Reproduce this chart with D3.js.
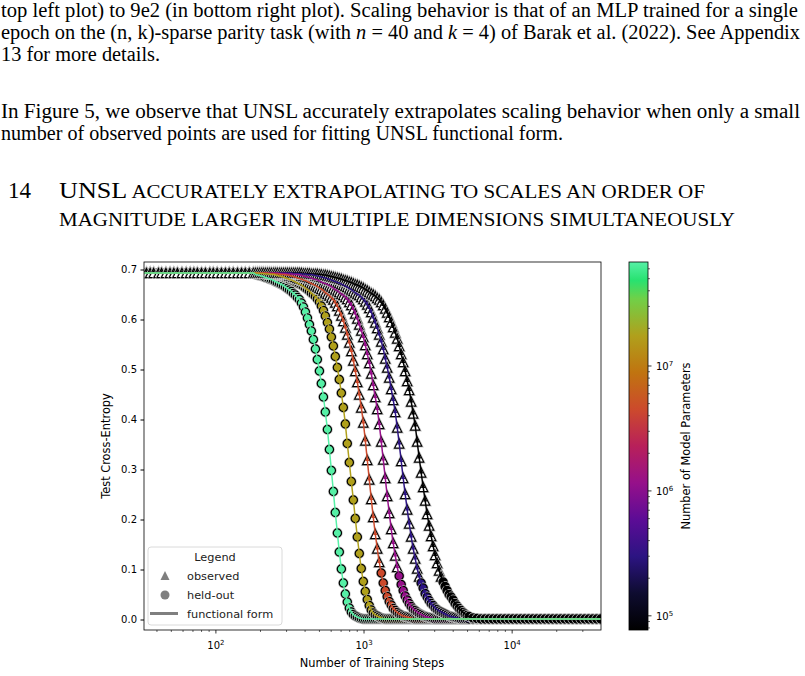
<!DOCTYPE html>
<html>
<head>
<meta charset="utf-8">
<script src="https://cdnjs.cloudflare.com/ajax/libs/d3/7.8.5/d3.min.js"></script>
<style>
  body { margin: 0; background: #fff; }
  svg { display: block; }
</style>
</head>
<body>
<svg id="page" width="805" height="676"></svg>
<script>
// training steps at which the loss was logged (shared by every model)
var steps = [32, 34, 36, 38, 41, 43, 46, 49, 52, 55, 59, 63, 67, 71, 75, 80, 85, 91, 96, 102, 109, 116, 123, 131, 140, 149, 158, 168, 179,
  185, 191, 197, 203, 209, 216, 223, 230, 237, 245, 252, 260, 269, 277, 286, 295, 304, 314, 324, 334, 344, 355, 366, 378, 390, 402, 415, 428, 441, 455,
  470, 484, 500, 515, 532, 548, 566, 584, 602, 621, 640, 661, 681, 703, 725, 748, 771, 796, 821, 847, 873, 901, 929, 958, 989, 1020, 1052, 1085,
  1119, 1154, 1191, 1228, 1267, 1307, 1348, 1391, 1434, 1480, 1526, 1574, 1624, 1675, 1728, 1782, 1838, 1896, 1956, 2018, 2081, 2147, 2215, 2284,
  2356, 2430, 2507, 2586, 2668, 2752, 2838, 2928, 3020, 3115, 3213, 3315, 3419, 3527, 3638, 3753, 3871, 3993, 4119, 4249, 4383, 4521, 4663, 4810,
  4962, 5118, 5446, 5794, 6165, 6560, 6980, 7427, 7902, 8408, 8946, 9518, 10127, 10775, 11465, 12199, 12979, 13810, 14694, 15634, 16635, 17700,
  18833, 20038, 21320, 22685, 24137, 25681, 27325, 29074, 30934, 32914, 35020, 37262, 39647];

// models, smallest to largest
var params = [7.7e4, 3.0e5, 1.16e6, 4.5e6, 1.75e7, 6.8e7];
var paramRange = [7.7e4, 6.8e7];
// loss sits at ln 2 before the drop and near zero after it
var plateauLoss = 0.693;
var floorLoss = 0.001;
// first logged step where each curve leaves the plateau
var dropStart = [390, 334, 269, 230, 197, 185];
// steps below this are "observed" (fit), the rest are held out
var observedBelow = [3400, 2400, 1700, 1300, 0, 0];

// loss values from dropStart on
var lossBlack = [.692, .692, .692, .692, .691, .691, .691, .691, .690, .690, .689, .689, .688, .687, .686, .685, .684, .683, .682, .681,
  .679, .678, .677, .675, .674, .672, .670, .669, .667, .665, .663, .660, .658, .655, .652, .650, .647, .643, .640, .635, .629, .622, .614,
  .605, .595, .585, .574, .562, .547, .531, .515, .497, .477, .459, .436, .412, .388, .356, .324, .294, .265, .238, .211, .188, .167, .147,
  .129, .113, .098, .086, .075, .066, .058, .050, .045, .039, .032, .027, .022, .018, .014, .011, .008, .006, .003, .002];
var lossIndigo = [.692, .692, .692, .692, .691, .691, .691, .690, .690, .690, .689, .688, .687, .686, .685, .684, .683, .682, .680, .679,
  .677, .676, .674, .673, .671, .669, .667, .665, .662, .660, .657, .654, .651, .649, .645, .641, .636, .630, .623, .615, .604, .594, .583,
  .570, .556, .541, .522, .504, .484, .461, .439, .415, .384, .352, .317, .283, .251, .220, .192, .166, .142, .122, .102, .086, .073, .063,
  .052, .045, .038, .032, .028, .023, .020, .017, .015, .013, .011, .009, .007, .006, .005, .004, .003, .002];
var lossMagenta = [.692, .692, .692, .692, .691, .691, .691, .690, .690, .690, .689, .688, .687, .686, .685, .684, .683, .681, .680, .679,
  .677, .675, .673, .672, .670, .668, .666, .663, .660, .658, .655, .651, .649, .645, .641, .635, .629, .621, .612, .602, .590, .578, .565,
  .549, .531, .513, .492, .469, .445, .421, .391, .356, .320, .283, .247, .213, .181, .153, .128, .105, .087, .070, .058, .047, .039, .032,
  .026, .021, .018, .015, .012, .010, .008, .006, .005, .004, .003, .002];
var lossOrange = [.692, .692, .692, .691, .691, .691, .690, .690, .689, .689, .688, .687, .686, .685, .683, .682, .681, .679, .678, .676,
  .674, .672, .670, .668, .666, .663, .661, .658, .654, .651, .648, .644, .640, .634, .627, .618, .608, .597, .584, .570, .554, .537, .518,
  .497, .475, .450, .424, .394, .358, .319, .280, .241, .205, .171, .142, .115, .093, .073, .058, .046, .036, .029, .022, .018, .014, .011,
  .009, .007, .006, .005, .004, .003, .002];
var lossOlive = [.692, .692, .692, .691, .691, .691, .690, .690, .689, .688, .687, .686, .685, .683, .682, .680, .679, .677, .675, .673,
  .671, .669, .666, .663, .660, .657, .653, .650, .646, .641, .635, .627, .618, .607, .594, .581, .565, .547, .526, .504, .480, .453, .424,
  .391, .352, .314, .276, .239, .202, .165, .132, .102, .076, .056, .040, .028, .019, .013, .009, .007, .005, .003, .002];
var lossGreen = [.690, .689, .688, .687, .686, .684, .683, .681, .680, .678, .676, .674, .672, .670, .668, .665, .662, .659, .656, .652,
  .649, .644, .640, .633, .625, .615, .603, .590, .577, .560, .541, .520, .497, .472, .445, .415, .380, .340, .298, .256, .214, .173, .135,
  .101, .073, .051, .035, .023, .015, .010, .007, .005, .003, .002];
var drops = [lossBlack, lossIndigo, lossMagenta, lossOrange, lossOlive, lossGreen];

var yTicks = [0.0, 0.1, 0.2, 0.3, 0.4, 0.5, 0.6, 0.7];
var xMajor = [1e2, 1e3, 1e4];
var cbMajor = [1e5, 1e6, 1e7];

// colormap of the colorbar, bottom (0) to top (1)
var cmapAt = [0, 0.1, 0.2, 0.3, 0.4, 0.5, 0.6, 0.7, 0.8, 0.9, 0.95, 1];
var cmapColors = ['#000000', '#0e0c30', '#2c1482', '#5c0c96', '#96108a', '#b8205a', '#cc4a2c', '#c07410',
  '#b0a01c', '#70d048', '#28e270', '#56f0a6'];

var svg = d3.select('#page');

// ---------- page text ----------
var serif = '"Liberation Serif", "Times New Roman", serif';
var txt = svg.append('g').attr('font-family', serif).attr('font-size', 20).attr('fill', '#000');

function textLine(yb, parts, len, xs, size) {
  var t = txt.append('text').attr('x', xs || 1).attr('y', yb);
  if (size) t.attr('font-size', size);
  if (len) t.attr('textLength', len).attr('lengthAdjust', 'spacingAndGlyphs');
  parts.forEach(function(p) {
    var s = t.append('tspan').text(p.t !== undefined ? p.t : p);
    if (p.i) s.attr('font-style', 'italic');
    if (p.s) s.attr('font-size', p.s);
  });
  return t;
}
textLine(17, ['top left plot) to 9e2 (in bottom right plot). Scaling behavior is that of an MLP trained for a single'], 797);
textLine(39, ['epoch on the (n, k)-sparse parity task (with ', {t: 'n', i: 1}, ' = 40 and ', {t: 'k', i: 1},
  ' = 4) of Barak et al. (2022). See Appendix'], 799);
textLine(61, ['13 for more details.'], 159);
textLine(118, ['In Figure 5, we observe that UNSL accurately extrapolates scaling behavior when only a small'], 799);
textLine(140, ['number of observed points are used for fitting UNSL functional form.'], 562);
textLine(198, ['14'], null, 8, 23);
textLine(198, [{t: 'UNSL', s: 23}, {t: ' ACCURATELY EXTRAPOLATING TO SCALES AN ORDER OF', s: 18.5}], 646, 59);
textLine(226, [{t: 'MAGNITUDE LARGER IN MULTIPLE DIMENSIONS SIMULTANEOUSLY', s: 18.5}], 676, 59);

// ---------- chart ----------
var sans = '"DejaVu Sans", sans-serif';
var x = d3.scaleLog().domain([32.7, 39800]).range([144, 601]);
var y = d3.scaleLinear().domain([-0.021, 0.715]).range([630, 262]);
var cb = d3.scaleLog().domain(paramRange).range([630, 262]);
var cmap = d3.scaleLinear().domain(cmapAt).range(cmapColors);
function colorOf(p) {
  var lo = Math.log10(paramRange[0]), hi = Math.log10(paramRange[1]);
  return cmap((Math.log10(p) - lo) / (hi - lo));
}

var series = params.map(function(p, m) {
  var i0 = steps.indexOf(dropStart[m]);
  var pts = steps.map(function(s, i) {
    var k = i - i0;
    var loss = k < 0 ? plateauLoss : (k < drops[m].length ? drops[m][k] : floorLoss);
    return {step: s, loss: loss, observed: s < observedBelow[m]};
  });
  return {params: p, color: colorOf(p), points: pts};
});

var defs = svg.append('defs');
defs.append('clipPath').attr('id', 'plotclip')
  .append('rect').attr('x', 144).attr('y', 262).attr('width', 457).attr('height', 368);

var plot = svg.append('g').attr('clip-path', 'url(#plotclip)');

var triPath = 'M0,-4.6L4.6,4.6L-4.6,4.6Z';
var triInner = 'M0,-3.4L2.2,1L-2.2,1Z';
var circPath = d3.symbol(d3.symbolCircle, Math.PI * 4.1 * 4.1)();

// largest model first, so the small models' markers end up on top
var marks = [];
series.slice().reverse().forEach(function(s) {
  s.points.forEach(function(d) {
    marks.push({x: x(d.step), y: y(d.loss), observed: d.observed, color: s.color});
  });
});
plot.selectAll('g.mk').data(marks).join('g')
  .attr('class', 'mk')
  .attr('transform', function(d) { return 'translate(' + d.x + ',' + d.y + ')'; })
  .each(function(d) {
    var g = d3.select(this);
    var shape = d.observed ? triPath : circPath;
    g.append('path').attr('d', shape).attr('fill', '#c4c4c4').attr('stroke', '#c4c4c4').attr('stroke-width', 2.6);
    if (d.observed) {
      g.append('path').attr('d', shape).attr('fill', '#fff').attr('stroke', '#000').attr('stroke-width', 1.2);
      g.append('path').attr('d', triInner).attr('fill', d.color);
    } else {
      g.append('path').attr('d', shape).attr('fill', d.color).attr('stroke', '#000').attr('stroke-width', 1.2);
    }
  });

var line = d3.line().curve(d3.curveMonotoneX)
  .x(function(d) { return x(d.step); })
  .y(function(d) { return y(d.loss); });
plot.selectAll('path.fit').data(series).join('path')
  .attr('class', 'fit')
  .attr('d', function(s) { return line(s.points); })
  .attr('fill', 'none')
  .attr('stroke', function(s) { return s.color; })
  .attr('stroke-width', 1.5);

// frame
svg.append('rect').attr('x', 144).attr('y', 262).attr('width', 457).attr('height', 368)
  .attr('fill', 'none').attr('stroke', '#000').attr('stroke-width', 0.8);

// y axis
var yAxis = svg.append('g').attr('transform', 'translate(144,0)')
  .call(d3.axisLeft(y).tickValues(yTicks).tickFormat(d3.format('.1f')).tickSize(3.5).tickPadding(3.5));
yAxis.select('.domain').remove();
yAxis.selectAll('text').attr('font-family', sans).attr('font-size', 10).attr('fill', '#000');

// x axis, log decades with minor ticks
var xMinor = [];
[10, 100, 1000, 10000].forEach(function(b) {
  for (var m = 2; m <= 9; m++) if (b * m > 32.7 && b * m < 39800) xMinor.push(b * m);
});
var xAxis = svg.append('g').attr('transform', 'translate(0,630)');
xAxis.selectAll('line.mn').data(xMinor).join('line').attr('class', 'mn')
  .attr('x1', x).attr('x2', x).attr('y1', 0).attr('y2', 2).attr('stroke', '#000').attr('stroke-width', 0.6);
xAxis.selectAll('line.mj').data(xMajor).join('line').attr('class', 'mj')
  .attr('x1', x).attr('x2', x).attr('y1', 0).attr('y2', 3.5).attr('stroke', '#000').attr('stroke-width', 0.8);
var xl = xAxis.selectAll('text.mj').data(xMajor).join('text').attr('class', 'mj')
  .attr('x', x).attr('y', 19).attr('text-anchor', 'middle')
  .attr('font-family', sans).attr('font-size', 10);
xl.append('tspan').text('10');
xl.append('tspan').attr('dy', -4).attr('font-size', 7).text(function(d) { return Math.round(Math.log10(d)); });

svg.append('text').attr('x', 372).attr('y', 667).attr('text-anchor', 'middle')
  .attr('font-family', sans).attr('font-size', 11.4).text('Number of Training Steps');
svg.append('text').attr('transform', 'translate(110,446) rotate(-90)').attr('text-anchor', 'middle')
  .attr('font-family', sans).attr('font-size', 11.4).text('Test Cross-Entropy');

// legend
var leg = svg.append('g').attr('font-family', sans).attr('font-size', 11.3).attr('fill', '#222');
leg.append('rect').attr('x', 148).attr('y', 547).attr('width', 134).attr('height', 78).attr('rx', 3)
  .attr('fill', '#fff').attr('fill-opacity', 0.85).attr('stroke', '#d0d0d0').attr('stroke-width', 0.8);
leg.append('text').attr('x', 215).attr('y', 561).attr('text-anchor', 'middle').text('Legend');
leg.append('path').attr('d', 'M0,-4.5L4.5,4.5L-4.5,4.5Z').attr('transform', 'translate(165,575.5)').attr('fill', '#7f7f7f');
leg.append('circle').attr('cx', 165).attr('cy', 595).attr('r', 4.5).attr('fill', '#7f7f7f');
leg.append('line').attr('x1', 150).attr('x2', 178).attr('y1', 613.5).attr('y2', 613.5).attr('stroke', '#7f7f7f').attr('stroke-width', 3);
leg.append('text').attr('x', 187).attr('y', 580).text('observed');
leg.append('text').attr('x', 187).attr('y', 599).text('held-out');
leg.append('text').attr('x', 187).attr('y', 618).text('functional form');

// colorbar
var grad = defs.append('linearGradient').attr('id', 'cbgrad')
  .attr('x1', 0).attr('y1', 1).attr('x2', 0).attr('y2', 0);
grad.selectAll('stop').data(cmapColors).join('stop')
  .attr('offset', function(c, i) { return cmapAt[i]; })
  .attr('stop-color', function(c) { return c; });
svg.append('rect').attr('x', 629).attr('y', 262).attr('width', 19).attr('height', 368)
  .attr('fill', 'url(#cbgrad)').attr('stroke', '#000').attr('stroke-width', 0.8);
var cbMinor = [];
[1e4, 1e5, 1e6, 1e7].forEach(function(b) {
  for (var m = 2; m <= 9; m++) if (b * m > paramRange[0] && b * m < paramRange[1]) cbMinor.push(b * m);
});
var cbAxis = svg.append('g').attr('transform', 'translate(648,0)');
cbAxis.selectAll('line.mn').data(cbMinor).join('line').attr('class', 'mn')
  .attr('x1', 0).attr('x2', 2).attr('y1', cb).attr('y2', cb).attr('stroke', '#000').attr('stroke-width', 0.6);
cbAxis.selectAll('line.mj').data(cbMajor).join('line').attr('class', 'mj')
  .attr('x1', 0).attr('x2', 3.5).attr('y1', cb).attr('y2', cb).attr('stroke', '#000').attr('stroke-width', 0.8);
var cl = cbAxis.selectAll('text.mj').data(cbMajor).join('text').attr('class', 'mj')
  .attr('x', 8).attr('y', function(d) { return cb(d) + 4; })
  .attr('font-family', sans).attr('font-size', 10);
cl.append('tspan').text('10');
cl.append('tspan').attr('dy', -4).attr('font-size', 7).text(function(d) { return Math.round(Math.log10(d)); });
svg.append('text').attr('transform', 'translate(690,446) rotate(-90)').attr('text-anchor', 'middle')
  .attr('font-family', sans).attr('font-size', 11.4).text('Number of Model Parameters');
</script>
</body>
</html>
